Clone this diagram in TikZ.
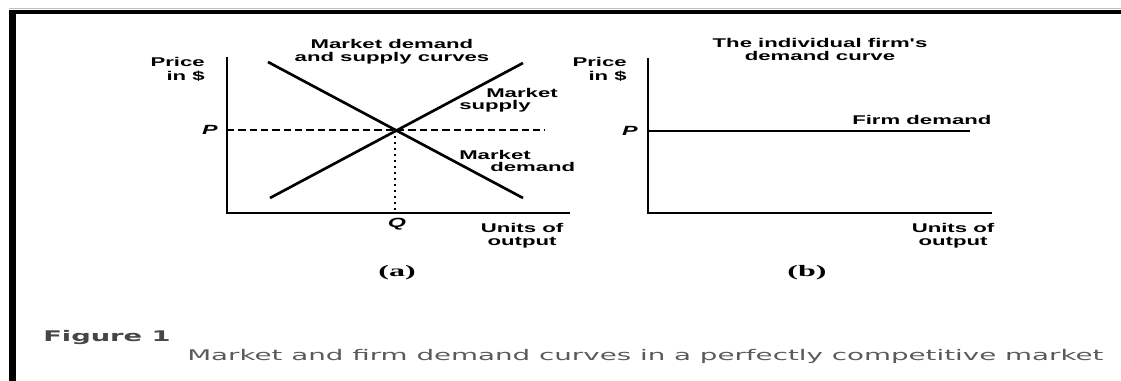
\documentclass[tikz,border=0pt]{standalone}
\usepackage{fontspec}
\usepackage{graphicx}
\newfontfamily\lblfont{Liberation Sans}
\newfontfamily\capfont{DejaVu Sans}
\newfontfamily\subfont{Liberation Serif}
\definecolor{capgray}{RGB}{90,90,90}
\definecolor{figgray}{RGB}{70,70,70}
% text of the scan is stretched sideways
\newcommand{\wtxt}[2][c]{\scalebox{1.75}[1]{\begin{tabular}[t]{@{}#1@{}}#2\end{tabular}}}

\begin{document}
\begin{tikzpicture}[
    x=0.75pt, y=-0.75pt,
    lbl/.style={font=\lblfont\bfseries\fontsize{9.5}{9.3}\selectfont, inner sep=0pt},
    plbl/.style={inner sep=0pt, font=\lblfont\bfseries\itshape\fontsize{10}{10}\selectfont},
    axisline/.style={line width=1.8pt},
    curve/.style={line width=2pt},
    guide/.style={line width=1pt, dash pattern=on 5.5pt off 3pt},
    qguide/.style={line width=1.6pt, dash pattern=on 1.5pt off 3pt}
]
    \useasboundingbox (0,0) rectangle (1121,381);

    % --- Frame ---
    \draw[gray!50, line width=0.75pt] (9,8.5) -- (1121,8.5);
    \fill (9,10) rectangle (1121,14);
    \fill (9,10) rectangle (16,381);

    % --- Panel (a): market ---
    \coordinate (ya) at (227,57);
    \coordinate (oa) at (227,213);
    \coordinate (xa) at (570,213);
    \coordinate (d1) at (268,62);
    \coordinate (d2) at (523,198);
    \coordinate (s1) at (270,198);
    \coordinate (s2) at (523,63);
    \coordinate (pa) at (227,130);
    \coordinate (pe) at (545,130);
    \coordinate (eq) at (395,130);
    \coordinate (qa) at (395,213);
    \draw[guide] (pa) -- (pe);
    \draw[qguide] (eq) -- (qa);
    \draw[axisline] (ya) -- (oa) -- (xa);
    \draw[curve] (d1) -- (d2);
    \draw[curve] (s1) -- (s2);

    \node[lbl, anchor=base] (tta) at (392,49) {\wtxt{Market demand\\and supply curves}};
    \node[lbl, anchor=base east] (pra) at (205,67) {\wtxt[r]{Price\\in \$}};
    \node[plbl, anchor=base] (lpa) at (210,134.5) {\wtxt{P}};
    \node[plbl, anchor=base] (lqa) at (397,228) {\wtxt{Q}};
    \node[lbl, anchor=base west] (ms1) at (486,98) {\wtxt{Market}};
    \node[lbl, anchor=base west] (ms2) at (459,110) {\wtxt{supply}};
    \node[lbl, anchor=base west] (md1) at (459,160) {\wtxt{Market}};
    \node[lbl, anchor=base west] (md2) at (490,172) {\wtxt{demand}};
    \node[lbl, anchor=base] (uoa) at (522,233) {\wtxt{Units of\\output}};
    \node[font=\subfont\bfseries\fontsize{12}{13}\selectfont, inner sep=0pt, anchor=base] (suba) at (397,276) {\scalebox{2}[1]{(a)}};

    % --- Panel (b): single firm ---
    \coordinate (yb) at (648,58);
    \coordinate (ob) at (648,213);
    \coordinate (xb) at (992,213);
    \coordinate (pb) at (648,131);
    \coordinate (fe) at (970,131);
    \draw[axisline] (yb) -- (ob) -- (xb);
    \draw[line width=1.6pt] (pb) -- (fe);

    \node[lbl, anchor=base] (ttb) at (820,48) {\wtxt{The individual firm's\\demand curve}};
    \node[lbl, anchor=base east] (prb) at (627,67) {\wtxt[r]{Price\\in \$}};
    \node[plbl, anchor=base] (lpb) at (630,135.5) {\wtxt{P}};
    \node[lbl, anchor=base west] (fd) at (852,125) {\wtxt{Firm demand}};
    \node[lbl, anchor=base] (uob) at (953,233) {\wtxt{Units of\\output}};
    \node[font=\subfont\bfseries\fontsize{12}{13}\selectfont, inner sep=0pt, anchor=base] (subb) at (807,276) {\scalebox{2}[1]{(b)}};

    % --- Caption ---
    \node[font=\capfont\bfseries\fontsize{11}{13}\selectfont, text=figgray, inner sep=0pt, anchor=base west] (fig) at (43,341) {\scalebox{1.86}[1]{Figure 1}};
    \node[font=\capfont\fontsize{11}{13}\selectfont, text=capgray, inner sep=0pt, anchor=base west] (cap) at (187,360) {\scalebox{1.89}[1]{Market and firm demand curves in a perfectly competitive market}};
\end{tikzpicture}
\end{document}
